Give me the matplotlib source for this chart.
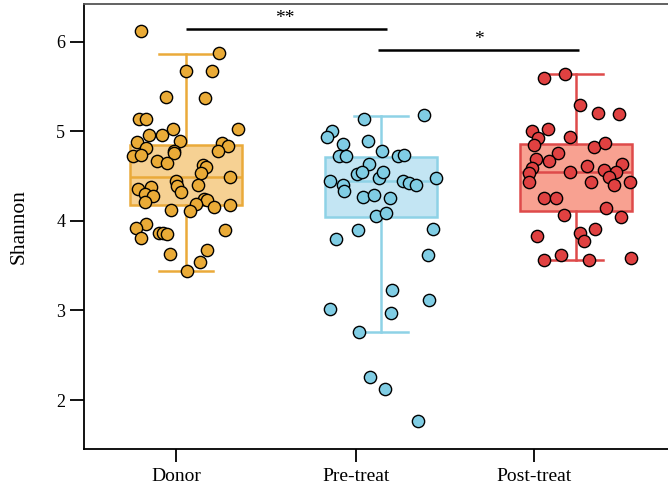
import numpy as np
import matplotlib
matplotlib.use("Agg")
import matplotlib.pyplot as plt

plt.rcParams['font.family'] = ['Liberation Serif', 'DejaVu Serif']

# group names and Shannon index per sample
groups = ["Donor", "Pre-treat", "Post-treat"]

donor = [6.12, 5.87, 5.67, 5.67, 5.38, 5.375, 5.14, 5.14, 5.03, 5.02, 4.955, 4.96,
         4.88, 4.895, 4.87, 4.84, 4.81, 4.78, 4.72, 4.73, 4.78, 4.76, 4.665, 4.65,
         4.62, 4.60, 4.53, 4.49, 4.45, 4.39, 4.40, 4.36, 4.38, 4.32, 4.30, 4.28,
         4.215, 4.24, 4.23, 4.185, 4.15, 4.18, 4.125, 4.11, 3.965, 3.92, 3.81,
         3.86, 3.86, 3.85, 3.895, 3.63, 3.67, 3.545, 3.445]
donor_x = [141, 219, 185.7, 211.7, 166, 205, 139.3, 145.7, 173.3, 238, 149, 162.3,
           137.3, 180, 221.7, 227.7, 146.3, 218, 132.7, 141.3, 173.7, 174, 157.3, 166.7,
           203.3, 206, 200.7, 230.3, 175.7, 176.7, 198, 138, 150.7, 181, 145, 152.7,
           145, 204, 206.7, 195.7, 214.3, 230.3, 170.7, 190, 145.7, 136, 141,
           159.3, 162.7, 167, 225.3, 170.3, 206.7, 200, 187.3]

pre = [5.18, 5.14, 5.0, 4.94, 4.86, 4.89, 4.78, 4.72, 4.72, 4.72, 4.73, 4.63,
       4.52, 4.55, 4.475, 4.54, 4.45, 4.40, 4.33, 4.445, 4.42, 4.40, 4.48, 4.27,
       4.29, 4.26, 4.05, 4.09, 3.90, 3.905, 3.80, 3.62, 3.225, 3.12, 3.02, 2.97,
       2.76, 2.26, 2.12, 1.77]
pre_x = [424, 363.7, 331.3, 326.3, 342.3, 367.7, 381.7, 339, 345.3, 397.3, 403.3, 369,
         356.7, 362, 379, 383, 330, 342.3, 344, 403, 409, 416, 435.7, 362.3,
         374, 389.7, 375.7, 385.3, 357.7, 432.7, 335.7, 427.3, 391.3, 428.3, 329.3, 391,
         359, 369.7, 384.3, 418]

post = [5.64, 5.59, 5.29, 5.20, 5.19, 5.03, 5.0, 4.925, 4.94, 4.85, 4.82, 4.87,
        4.76, 4.695, 4.67, 4.59, 4.53, 4.61, 4.57, 4.64, 4.55, 4.49, 4.55, 4.43,
        4.435, 4.40, 4.435, 4.26, 4.255, 4.14, 4.06, 4.04, 3.83, 3.87, 3.91, 3.78,
        3.62, 3.567, 3.564, 3.59]
post_x = [565, 543.7, 580, 598, 619.3, 547.7, 531.7, 538, 570, 534, 594.3, 605.3,
          557.7, 536, 548.7, 531.7, 528.7, 587.3, 604.3, 622.3, 616.3, 609, 569.7, 528.7,
          591, 613.7, 630, 544.3, 556.3, 606, 563.7, 621, 537.3, 579.7, 595.3, 584.3,
          561, 543.7, 589.3, 631]

# box statistics (q1, median, q3, whisker low, whisker high)
box_stats = [
    (4.18, 4.487, 4.844, 3.445, 5.866),
    (4.047, 4.442, 4.717, 2.763, 5.174),
    (4.114, 4.55, 4.855, 3.567, 5.643),
]

edge_colors = ["#EAAA3A", "#8ED2E6", "#DE4A4A"]
fill_colors = ["#F6D193", "#C3E5F3", "#F8A191"]
dot_colors = ["#EAAB37", "#80CDE4", "#E04141"]

# horizontal pixel spots of the dots -> box-relative offsets
px_center = [186, 380.7, 576]
px_per_unit = 195.0

fig = plt.figure(figsize=(6.68, 4.87), dpi=100)
ax = fig.add_axes([84 / 668, 38 / 487, 1 - 84 / 668 + 0.02, 445 / 487])

positions = [1, 2, 3]
bxp = []
for label, (q1, med, q3, lo, hi) in zip(groups, box_stats):
    bxp.append(dict(label=label, q1=q1, med=med, q3=q3, whislo=lo, whishi=hi, fliers=[]))

for i in range(3):
    ax.bxp([bxp[i]], positions=[positions[i]], widths=0.578, patch_artist=True,
           showfliers=False,
           boxprops=dict(facecolor=fill_colors[i], edgecolor=edge_colors[i], linewidth=1.8),
           medianprops=dict(color=edge_colors[i], linewidth=1.8),
           whiskerprops=dict(color=edge_colors[i], linewidth=1.8),
           capprops=dict(color=edge_colors[i], linewidth=1.8),
           capwidths=0.28, zorder=1)

for i, (vals, xs) in enumerate([(donor, donor_x), (pre, pre_x), (post, post_x)]):
    xpos = positions[i] + (np.array(xs) - px_center[i]) / px_per_unit
    ax.scatter(xpos, vals, s=78, c=dot_colors[i], edgecolors="black",
               linewidths=1.0, zorder=3)

# significance brackets
ax.plot([1.0, 2.03], [6.142, 6.142], color="black", lw=1.8, solid_capstyle="butt")
ax.text(1.506, 6.16, "**", ha="center", va="bottom", fontsize=14)
ax.plot([1.985, 3.015], [5.91, 5.91], color="black", lw=1.8, solid_capstyle="butt")
ax.text(2.5, 5.93, "*", ha="center", va="bottom", fontsize=14)

ax.set_xlim(0.477, 1 + (668 - 186) / px_per_unit + 0.02 * 668 / px_per_unit)
ax.set_ylim(1.454, 6.42)

tick_pos = [0.950, 1.870, 2.785]
ax.set_xticks(tick_pos)
ax.set_xticklabels(groups, fontsize=14)
ax.set_yticks([2, 3, 4, 5, 6])
ax.tick_params(axis="y", labelsize=13, length=10, width=1.3, direction="out")
ax.tick_params(axis="x", length=9, width=1.3, direction="out", pad=5)
ax.set_ylabel("Shannon", fontsize=15.5, labelpad=20)

for side in ["left", "bottom"]:
    ax.spines[side].set_linewidth(1.3)
ax.spines["top"].set_linewidth(1.3)
ax.spines["top"].set_color("#555555")
ax.spines["right"].set_visible(False)

fig.savefig("out.png", dpi=100)
